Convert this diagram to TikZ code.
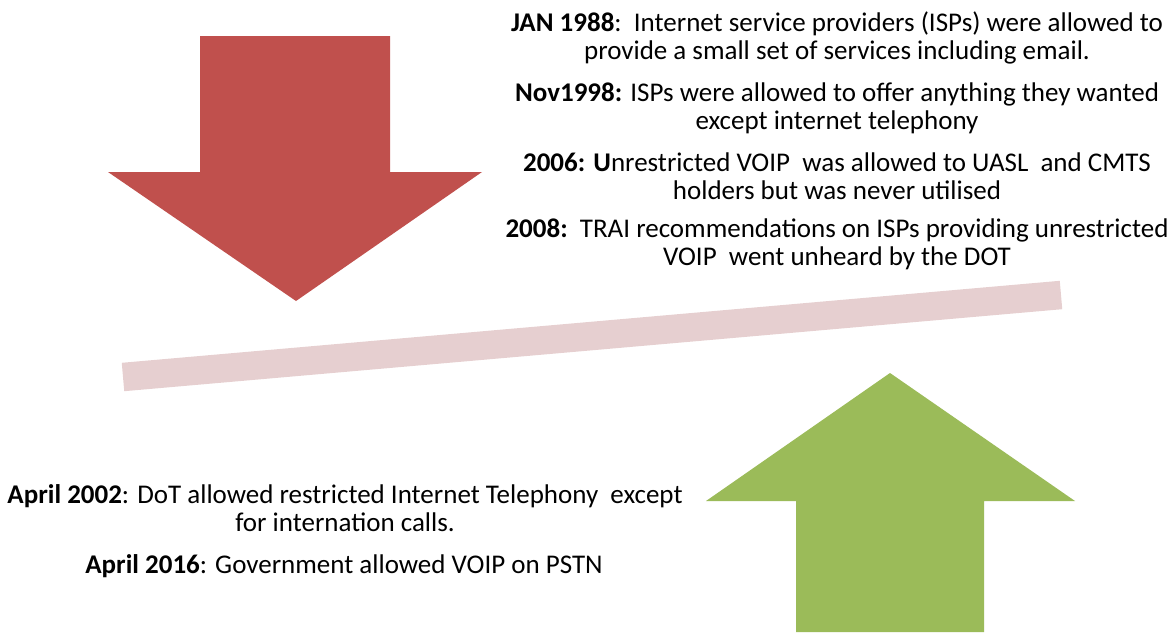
\documentclass[tikz,border=0pt]{standalone}
\usepackage{fontspec}
\setmainfont{Carlito}
\usepackage{tikz}
\usetikzlibrary{positioning}
\definecolor{downred}{RGB}{192,80,77}
\definecolor{upgreen}{RGB}{155,187,89}
\definecolor{barpink}{RGB}{230,207,208}

\begin{document}
\begin{tikzpicture}[x=1pt, y=-1pt,
    entry/.style={align=center, inner sep=0pt, anchor=base, font=\fontsize{27}{28}\selectfont},
    bar/.style={barpink, line width=28.5pt}
]
    \useasboundingbox (0,0) rectangle (1175,632);

    % Red arrow (down)
    \fill[downred] (200,36) -- (390,36) -- (390,172) -- (482,172) -- (296,301)
        -- (108,172) -- (200,172) -- cycle;

    % Green arrow (up)
    \fill[upgreen] (796,632) -- (984,632) -- (984,501) -- (1075,501) -- (890,373)
        -- (706,501) -- (796,501) -- cycle;

    % Tilted bar
    \coordinate (barL) at (123,377);
    \coordinate (barR) at (1061,295);
    \draw[bar] (barL) -- (barR);

    % Entries upper right (base = last line)
    \node[entry] (jan) at (837,59) {\textbf{JAN 1988}:\ \ Internet service providers (ISPs) were allowed to\\provide a small set of services including email.};
    \node[entry] (nov) at (837,129) {\textbf{Nov1998:} ISPs were allowed to offer anything they wanted\\except internet telephony};
    \node[entry] (y2006) at (837,199.5) {\textbf{2006: U}nrestricted VOIP\ \ was allowed to UASL\ \ and CMTS\\holders but was never utilised};
    \node[entry] (y2008) at (837,265) {\textbf{2008:}\ \ TRAI recommendations on ISPs providing unrestricted\\VOIP\ \ went unheard by the DOT};

    % Entries lower left
    \node[entry] (apr02) at (345,531) {\textbf{April 2002}: DoT allowed restricted Internet Telephony\ \ except\\for internation calls.};
    \node[entry] (apr16) at (344,573) {\textbf{April 2016}: Government allowed VOIP on PSTN};
\end{tikzpicture}
\end{document}
